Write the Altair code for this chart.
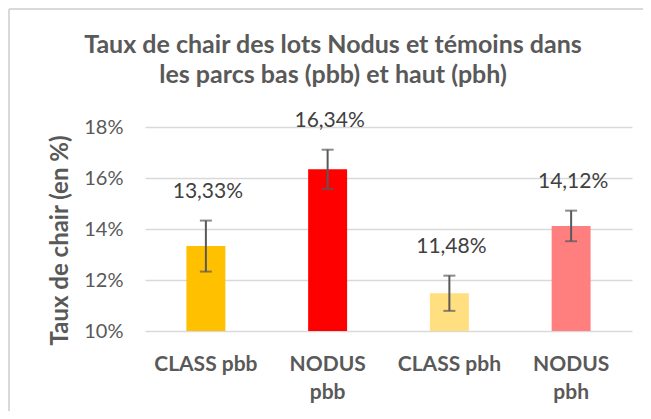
import altair as alt
import pandas as pd

categories = ["CLASS pbb", "NODUS pbb", "CLASS pbh", "NODUS pbh"]
values = [13.33, 16.34, 11.48, 14.12]
errors = [1.00, 0.77, 0.69, 0.60]
colors = ["#FFC000", "#FF0000", "#FFDF7F", "#FF7F7F"]
y_ticks = [10, 12, 14, 16, 18]
title_lines = ["Taux de chair des lots Nodus et témoins dans", "les parcs bas (pbb) et haut (pbh)"]
y_title = "Taux de chair (en %)"

df = pd.DataFrame({"cat": categories, "value": values, "err": errors})

FONT = "Lato"
GRAY = "#595959"

x_enc = alt.X(
    "cat:N",
    sort=categories,
    scale=alt.Scale(paddingInner=0, paddingOuter=0),
    axis=alt.Axis(
        title=None,
        labelAngle=0,
        labelFont=FONT,
        labelFontSize=21,
        labelFontWeight="bold",
        labelColor=GRAY,
        labelPadding=22,
        labelLineHeight=28,
        labelExpr="indexof(datum.label, 'NODUS') == 0 ? split(datum.label, ' ') : datum.label",
        domain=False,
        ticks=False,
        grid=False,
    ),
)

y_scale = alt.Scale(domain=[10, 18], nice=False, zero=False)

bars = alt.Chart(df).mark_bar(width=alt.RelativeBandSize(0.32)).encode(
    x=x_enc,
    y=alt.Y(
        "value:Q",
        scale=y_scale,
        axis=alt.Axis(
            title=y_title,
            values=y_ticks,
            labelExpr="datum.value + '%'",
            labelFont=FONT,
            labelFontSize=20,
            labelColor=GRAY,
            labelPadding=22,
            titleFont=FONT,
            titleFontSize=24,
            titleFontWeight="bold",
            titleColor=GRAY,
            titleAngle=-90,
            titleAlign="center",
            titleBaseline="middle",
            titleX=-85,
            titleY=113,
            domain=False,
            ticks=False,
            grid=True,
            gridColor="#d9d9d9",
            gridWidth=1.5,
        ),
    ),
    y2=alt.datum(10),
    color=alt.Color("cat:N", scale=alt.Scale(domain=categories, range=colors), legend=None),
)

base = alt.Chart(df).transform_calculate(
    lo="datum.value - datum.err",
    hi="datum.value + datum.err",
    lab="replace(format(datum.value, '.2f'), '.', ',') + '%'",
)

err_rule = base.mark_rule(color=GRAY, strokeWidth=2).encode(
    x=alt.X("cat:N", sort=categories),
    y=alt.Y("lo:Q", scale=y_scale),
    y2="hi:Q",
)
cap_hi = base.mark_tick(color=GRAY, size=12, thickness=2, orient="horizontal").encode(
    x=alt.X("cat:N", sort=categories),
    y=alt.Y("hi:Q", scale=y_scale),
)
cap_lo = base.mark_tick(color=GRAY, size=12, thickness=2, orient="horizontal").encode(
    x=alt.X("cat:N", sort=categories),
    y=alt.Y("lo:Q", scale=y_scale),
)
labels = base.mark_text(
    font=FONT, fontSize=21, color="#404040", baseline="alphabetic", dy=-23, dx=2
).encode(
    x=alt.X("cat:N", sort=categories),
    y=alt.Y("hi:Q", scale=y_scale),
    text="lab:N",
)

title_mark = alt.Chart(df).transform_aggregate(n="count()").mark_text(
    text=title_lines,
    font=FONT,
    fontSize=25,
    fontWeight="bold",
    color=GRAY,
    align="center",
    baseline="alphabetic",
    lineHeight=30,
).encode(x=alt.value(188), y=alt.value(-74))

frame_top = alt.Chart(df).transform_aggregate(n="count()").mark_rule(color="#d9d9d9", strokeWidth=2).encode(
    x=alt.value(-136), x2=alt.value(498), y=alt.value(-118)
)
frame_left = alt.Chart(df).transform_aggregate(n="count()").mark_rule(color="#d9d9d9", strokeWidth=2).encode(
    x=alt.value(-136), y=alt.value(-118), y2=alt.value(284)
)

chart = alt.layer(bars, err_rule, cap_hi, cap_lo, labels, title_mark, frame_top, frame_left).properties(
    width=487,
    height=204,
    autosize=alt.AutoSizeParams(type="none"),
    padding={"left": 137, "top": 119, "right": 11, "bottom": 80},
).configure_view(stroke=None)

chart.save("out.html", embed_options={"renderer": "svg", "actions": False})
